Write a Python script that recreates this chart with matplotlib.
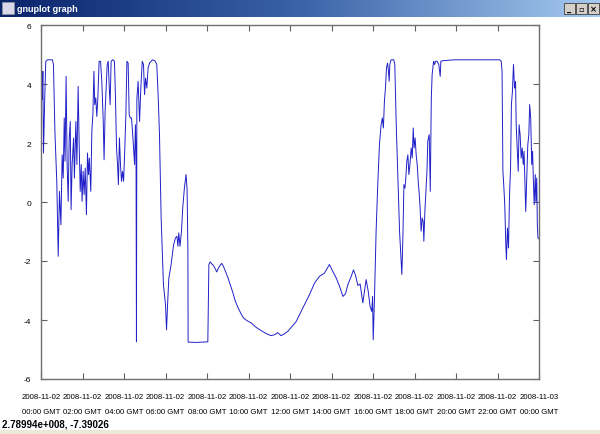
#!/usr/bin/env python3
import matplotlib
matplotlib.use('Agg')
import matplotlib.pyplot as plt
import numpy as np
from matplotlib.patches import Rectangle
from matplotlib.colors import LinearSegmentedColormap

hours = [0.02, 0.06, 0.09, 0.12, 0.18, 0.23, 0.31, 0.55, 0.60, 0.67, 0.71, 0.76, 0.83, 0.89, 0.96,
         1.02, 1.07, 1.12, 1.16, 1.21, 1.26, 1.31, 1.36, 1.41, 1.45, 1.50, 1.57, 1.61, 1.68, 1.73,
         1.79, 1.84, 1.89, 1.94, 1.98, 2.03, 2.08, 2.13, 2.19, 2.24, 2.29, 2.33, 2.40, 2.45, 2.50,
         2.55, 2.59, 2.64, 2.69, 2.74, 2.80, 2.87, 2.93, 3.00, 3.04, 3.09, 3.14, 3.19, 3.24, 3.29,
         3.33, 3.38, 3.46, 3.54, 3.59, 3.64, 3.69, 3.73, 3.78, 3.83, 3.88, 3.93, 3.98, 4.04, 4.09,
         4.14, 4.20, 4.25, 4.30, 4.36, 4.41, 4.46, 4.51, 4.55, 4.58, 4.60, 4.62, 4.68, 4.75, 4.81,
         4.88, 4.94, 4.99, 5.04, 5.10, 5.16, 5.23, 5.37, 5.49, 5.58, 5.65,
         5.71, 5.79, 5.90, 6.00, 6.05, 6.10, 6.16, 6.27, 6.39, 6.48, 6.55, 6.60, 6.64, 6.70, 6.77,
         6.83, 6.91, 6.99, 7.04, 7.08, 7.09, 7.50, 8.04, 8.09, 8.15, 8.23, 8.31, 8.38, 8.47, 8.55,
         8.63, 8.71, 8.79, 8.89, 9.00, 9.12, 9.25, 9.37, 9.50, 9.65, 9.76, 9.92, 10.13, 10.37,
         10.61, 10.85, 11.09, 11.25, 11.41, 11.57, 11.73, 11.90,
         12.30, 12.62, 12.94, 13.18, 13.42, 13.66, 13.90, 14.06, 14.23, 14.39, 14.55, 14.67, 14.79,
         14.95, 15.06, 15.16, 15.27, 15.38, 15.51, 15.67, 15.77, 15.86, 15.94, 15.98, 16.01, 16.07,
         16.15, 16.23, 16.31, 16.39, 16.45, 16.50, 16.55, 16.60, 16.65, 16.70, 16.74, 16.78, 16.81,
         16.87, 17.00, 17.05, 17.12, 17.20, 17.28, 17.33, 17.39, 17.44, 17.49, 17.54, 17.58, 17.63,
         17.68, 17.73, 17.78, 17.84, 17.89, 17.94, 17.98, 18.03, 18.08, 18.13, 18.18, 18.23, 18.27,
         18.32, 18.37, 18.42, 18.45, 18.50, 18.55, 18.60, 18.64, 18.71, 18.76, 18.81, 18.85, 18.92,
         18.97, 19.01, 19.09, 19.17, 19.24, 19.27, 19.37, 19.93, 21.00, 22.10, 22.18, 22.22, 22.26,
         22.30, 22.35, 22.40, 22.43, 22.48, 22.53, 22.58, 22.63, 22.67, 22.72, 22.77, 22.82, 22.87,
         22.90, 22.95, 23.00, 23.04, 23.09, 23.14, 23.19, 23.24, 23.28, 23.33, 23.36, 23.41, 23.46,
         23.51, 23.55, 23.60, 23.65, 23.69, 23.74, 23.77, 23.82, 23.85, 23.89, 23.92, 23.95, 23.99]
values = [4.66, 3.47, 4.43, 1.66, 3.53, 4.77, 4.82, 4.82, 4.66, 2.40, 1.60, 0.70, -1.84, 0.36, -0.77,
          1.60, 0.81, 2.85, 1.38, 4.26, 1.27, 0.02, 2.17, 2.73, -0.26, 1.27, 2.17, 0.81, 2.73, 1.27,
          3.92, 1.94, 0.36, 1.27, 0.02, 1.04, 0.25, 1.15, -0.43, 1.66, 0.93, 1.49, 0.36, 2.40, 2.96,
          4.43, 3.30, 3.53, 2.90, 3.53, 4.77, 4.77, 4.09, 2.73, 1.43, 3.07, 3.86, 4.66, 4.77, 3.86,
          3.30, 4.77, 4.82, 4.77, 3.53, 1.83, 1.27, 0.59, 2.17, 1.27, 0.70, 1.04, 0.70, 1.83, 2.96,
          4.77, 4.71, 2.96, 2.85, 2.85, 2.40, 1.83, 1.27, 2.62, 1.60, -4.74, 3.50, 4.09, 2.73, 3.86,
          4.77, 4.66, 3.64, 4.20, 3.86, 4.54, 4.71, 4.82, 4.79, 4.66, 3.53,
          2.28, -0.54, -2.80, -3.48, -4.33, -3.48, -2.58, -2.12, -1.45, -1.22, -1.16, -1.50, -1.05, -1.50, -0.99,
          -0.20, 0.47, 0.93, 0.42, -1.67, -4.75, -4.76, -4.74, -2.12, -2.03, -2.10, -2.15, -2.24, -2.37, -2.24,
          -2.15, -2.08, -2.18, -2.35, -2.55, -2.80, -3.08, -3.37, -3.59, -3.80, -3.93, -4.02, -4.10, -4.25,
          -4.36, -4.46, -4.53, -4.50, -4.43, -4.53, -4.47, -4.38,
          -4.05, -3.59, -3.14, -2.75, -2.52, -2.41, -2.12, -2.35, -2.58, -2.86, -3.20, -3.12, -2.80,
          -2.52, -2.30, -2.49, -2.83, -2.78, -3.42, -2.63, -3.03, -3.54, -3.71, -3.20, -4.67, -3.30,
          -0.99, 0.59, 1.94, 2.62, 2.85, 2.51, 3.41, 3.86, 4.54, 4.71, 4.49, 4.09, 4.66,
          4.82, 4.82, 4.66, 2.62, 0.81, -0.99, -1.67, -2.46, -1.22, 0.59, 0.47, 0.81, 1.38,
          1.60, 0.93, 1.27, 1.83, 1.49, 2.51, 1.83, 2.17, 1.60, 1.27, 0.70, 0.25, -0.20,
          -0.99, -0.54, -0.66, -1.33, -0.32, 0.36, 1.04, 2.06, 2.28, 0.36, 3.53, 4.32, 4.77,
          4.66, 4.77, 4.77, 4.66, 4.26, 4.77, 4.79, 4.82, 4.82, 4.82, 4.77, 4.43, 1.04,
          0.59, -0.09, -1.45, -1.95, -0.88, -1.56, 0.25, 1.15, 3.30, 3.75, 4.66, 3.86, 4.09,
          2.62, 1.83, 1.04, 2.62, 2.28, 1.49, 1.83, 1.27, 1.72, 0.47, -0.32, 0.81, 1.94,
          2.28, 3.30, 2.85, 1.27, 1.72, 0.47, -0.09, 0.93, 0.02, 0.81, -0.77, -1.22, -1.25]

tick_hours = list(range(0, 25, 2))
tick_dates = ['2008-11-02'] * 12 + ['2008-11-03']
tick_times = ['00:00 GMT', '02:00 GMT', '04:00 GMT', '06:00 GMT', '08:00 GMT', '10:00 GMT',
              '12:00 GMT', '14:00 GMT', '16:00 GMT', '18:00 GMT', '20:00 GMT', '22:00 GMT',
              '00:00 GMT']
y_ticks = [-6, -4, -2, 0, 2, 4, 6]
status_text = '2.78994e+008, -7.39026'

plt.rcParams['font.family'] = ['Liberation Sans', 'DejaVu Sans']

W, H = 600, 435
fig = plt.figure(figsize=(W / 100, H / 100), dpi=100)
fig.patch.set_facecolor('white')

# window title bar
bar = fig.add_axes([0, 1 - 18 / H, 1, 18 / H])
grad = np.linspace(0, 1, 256).reshape(1, -1)
cmap = LinearSegmentedColormap.from_list('xp', ['#0a246a', '#3a63a8', '#a6caf0'])
bar.imshow(grad, aspect='auto', cmap=cmap, extent=[0, W, 0, 18])
bar.set_xlim(0, W)
bar.set_ylim(0, 18)
bar.axis('off')
bar.add_patch(Rectangle((2, 3), 12, 12, facecolor='#d8d8e8', edgecolor='#9090a0', lw=0.6))
bar.text(17, 9, 'gnuplot graph', color='white', fontsize=6.5, fontweight='bold', va='center')
for i, g in enumerate(['_', '▫', '×']):
    bx = 564 + i * 12
    bar.add_patch(Rectangle((bx, 3), 11, 11, facecolor='#d4d0c8', edgecolor='#404040', lw=0.6))
    bar.text(bx + 5.5, 8.5, g, fontsize=6, ha='center', va='center', color='black',
             fontweight='bold', family=['DejaVu Sans'])

# status bar
stat = fig.add_axes([0, 0, 1, 17 / H])
stat.set_xlim(0, W)
stat.set_ylim(0, 17)
stat.axis('off')
stat.add_patch(Rectangle((0, 0), W, 4, facecolor='#ece9d8', edgecolor='none'))
stat.text(2, 10, status_text, fontsize=7, fontweight='bold', va='center', color='black')

# the plot itself
ax = fig.add_axes([41 / W, 1 - 380 / H, (539 - 41) / W, (380 - 26) / H])
ax.plot(hours, values, color='#2020c8', lw=0.7)
ax.set_xlim(0, 24)
ax.set_ylim(-6, 6)
ax.set_yticks(y_ticks)
ax.set_yticklabels([str(t) for t in y_ticks])
labels = [d + '\n' + t for d, t in zip(tick_dates, tick_times)]
ax.set_xticks(tick_hours)
ax.set_xticklabels(labels)
for lab in ax.get_xticklabels():
    lab.set_linespacing(2.6)
ax.tick_params(direction='in', length=4, width=0.8, color='#606060', labelsize=5.6,
               top=True, right=True)
ax.tick_params(axis='x', pad=10)
ax.tick_params(axis='y', labelsize=6, pad=7)
for s in ax.spines.values():
    s.set_color('#707070')
    s.set_linewidth(1)

fig.savefig('out.png', dpi=100)
